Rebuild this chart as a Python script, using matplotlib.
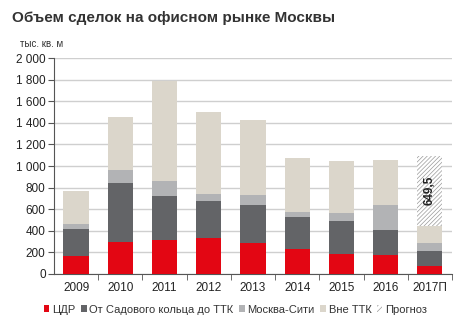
import matplotlib
matplotlib.use("Agg")
import matplotlib.pyplot as plt
from matplotlib.patches import Patch

plt.rcParams['font.family'] = ['Liberation Sans', 'DejaVu Sans']
plt.rcParams['hatch.color'] = '#9a9a9a'
plt.rcParams['hatch.linewidth'] = 0.5

years = ['2009', '2010', '2011', '2012', '2013', '2014', '2015', '2016', '2017П']
cdr = [167, 299, 315, 333, 290, 229, 182, 173, 77]
sadovoe_ttk = [247, 547, 407, 346, 346, 296, 306, 237, 139]
moscow_city = [46, 117, 142, 62, 95, 49, 77, 226, 71]
outside_ttk = [309, 494, 920, 756, 695, 503, 484, 422, 160]
forecast = [0, 0, 0, 0, 0, 0, 0, 0, 649.5]
forecast_label = '649,5'

series = [
    ('ЦДР', cdr, '#e30613'),
    ('От Садового кольца до ТТК', sadovoe_ttk, '#636467'),
    ('Москва-Сити', moscow_city, '#b2b3b5'),
    ('Вне ТТК', outside_ttk, '#dbd6cb'),
]

fig = plt.figure(figsize=(4.71, 3.30), dpi=100)
ax = fig.add_axes([0.1146, 0.1697, 0.845, 0.6545])

x = list(range(len(years)))
width = 0.57
bottom = [0] * len(years)
for name, vals, color in series:
    ax.bar(x, vals, width, bottom=bottom, color=color, zorder=3)
    bottom = [b + v for b, v in zip(bottom, vals)]

ax.bar(x, forecast, width, bottom=bottom, color='white', hatch='////////',
       edgecolor='#9a9a9a', linewidth=0, zorder=3)
i = len(years) - 1
ax.text(x[i], bottom[i] + forecast[i] / 2, forecast_label, rotation=90,
        ha='center', va='center', fontsize=8.5, fontweight='bold',
        color='#222222', zorder=4)

ax.set_xlim(-0.5, len(years) - 0.5)
ax.set_ylim(0, 2000)
ax.set_yticks(range(0, 2001, 200))
ax.set_yticklabels([f'{v:,}'.replace(',', ' ') for v in range(0, 2001, 200)],
                   fontsize=8.5, color='#222222')
ax.set_xticks(x)
ax.set_xticklabels(years, fontsize=8.5, color='#222222')
ax.tick_params(axis='x', length=0, pad=6)
ax.set_xticks([k + 0.5 for k in x[:-1]] + [len(years) - 0.5], minor=True)
ax.tick_params(axis='x', which='minor', length=4, color='#555555', direction='out')
ax.tick_params(axis='y', length=4, color='#555555', pad=2)

ax.grid(axis='y', color='#cfcfcf', linewidth=1, zorder=0)
for s in ['top', 'right']:
    ax.spines[s].set_visible(False)
ax.spines['left'].set_color('#555555')
ax.spines['bottom'].set_color('#555555')

fig.text(0.025, 0.945, 'Объем сделок на офисном рынке Москвы', fontsize=11,
         fontweight='bold', color='#333333', va='center')
fig.text(0.043, 0.868, 'тыс. кв. м', fontsize=7, color='#333333', va='center')

handles = [Patch(facecolor=c, edgecolor='none') for _, _, c in series]
handles.append(Patch(facecolor='white', edgecolor='#9a9a9a', hatch='//////', linewidth=0))
labels = [n for n, _, _ in series] + ['Прогноз']
fig.legend(handles, labels, loc='center left', bbox_to_anchor=(0.072, 0.062),
           ncol=5, frameon=False, fontsize=8, handlelength=0.5, handleheight=0.5,
           handletextpad=0.25, columnspacing=0.5, labelcolor='#333333')

fig.savefig('out.png', dpi=100)
